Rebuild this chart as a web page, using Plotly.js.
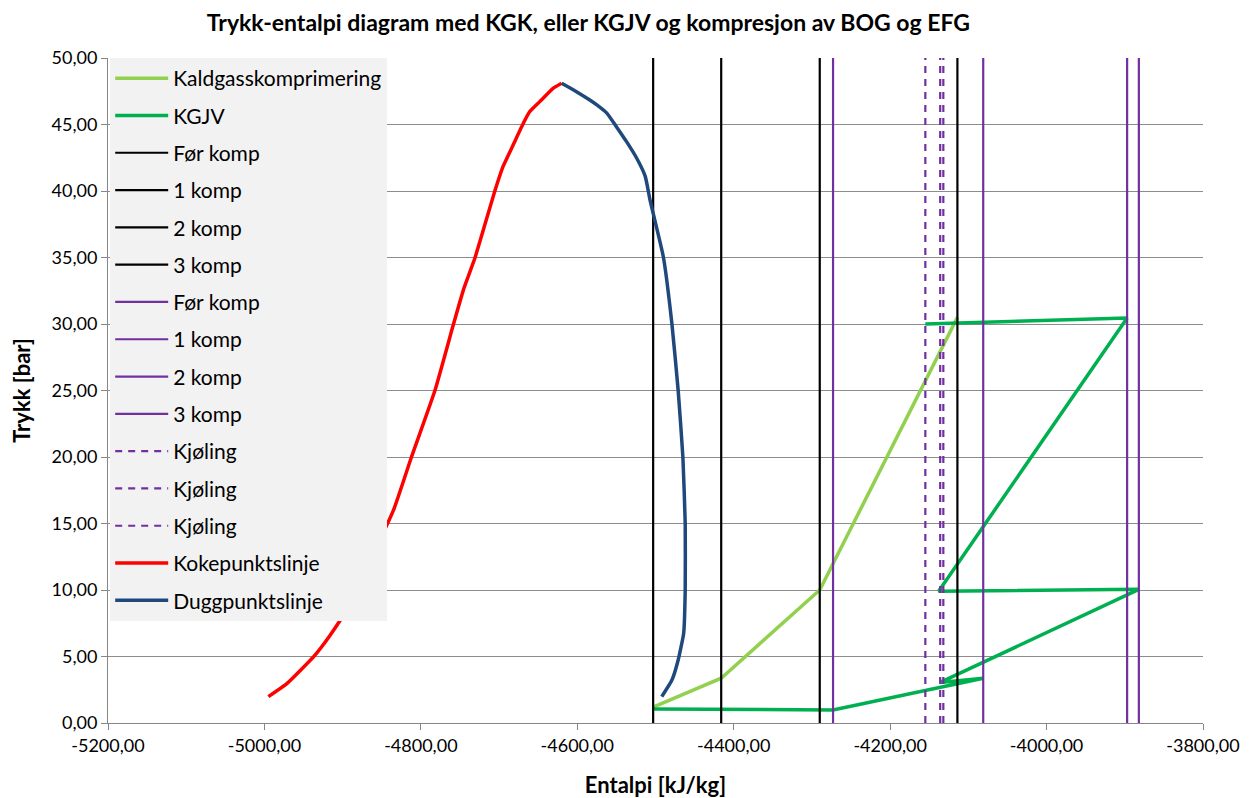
<!DOCTYPE html>
<html>
<head>
<meta charset="utf-8">
<script src="https://cdn.plot.ly/plotly-3.0.1.min.js"></script>
<style>html,body{margin:0;padding:0;background:#fff;}#chart{width:1260px;height:798px;}</style>
</head>
<body>
<div id="chart"></div>
<script>
// Kaldgasskomprimering (KGK)
const kgkX = [-4503, -4416, -4290, -4114];
const kgkY = [1.2, 3.37, 10.0, 30.5];

// KGJV
const kgjvX = [-4503, -4273, -4081, -4136, -3882, -4138, -3897, -4155];
const kgjvY = [1.05, 0.98, 3.36, 3.05, 10.05, 9.9, 30.45, 30.0];

// Vertical lines (enthalpy positions)
const blackNames = ["Før komp", "1 komp", "2 komp", "3 komp"];
const blackX = [-4503, -4416, -4290, -4114];
const purpleNames = ["Før komp", "1 komp", "2 komp", "3 komp"];
const purpleX = [-4273, -4081, -3882, -3897];
const coolNames = ["Kjøling", "Kjøling", "Kjøling"];
const coolX = [-4155, -4136, -4132];
const vertY = [0, 50];

// Kokepunktslinje (boiling line)
const bubX = [-4995, -4971, -4937, -4916, -4895, -4835, -4812, -4782, -4758, -4745, -4731, -4705, -4695, -4682, -4669, -4661, -4648, -4631, -4620];
const bubY = [1.98, 2.98, 4.99, 6.6, 8.5, 16.0, 20.0, 25.0, 30.05, 32.68, 34.94, 40.08, 41.83, 43.46, 45.09, 45.96, 46.72, 47.72, 48.1];

// Duggpunktslinje (dew line)
const dewX = [-4620, -4601, -4584, -4575, -4562, -4550, -4537, -4524, -4513, -4507, -4490, -4479, -4471, -4465, -4462, -4462, -4464, -4471, -4479, -4492];
const dewY = [48.1, 47.47, 46.84, 46.47, 45.84, 44.84, 43.71, 42.46, 41.08, 39.32, 35.06, 30.0, 25.0, 20.0, 15.0, 10.0, 6.74, 4.74, 3.23, 1.98];

// Tick labels
const xTickVals = [-5200, -5000, -4800, -4600, -4400, -4200, -4000, -3800];
const xTickText = ["-5200,00", "-5000,00", "-4800,00", "-4600,00", "-4400,00", "-4200,00", "-4000,00", "-3800,00"];
const yTickVals = [0, 5, 10, 15, 20, 25, 30, 35, 40, 45, 50];
const yTickText = ["0,00", "5,00", "10,00", "15,00", "20,00", "25,00", "30,00", "35,00", "40,00", "45,00", "50,00"];

const traces = [];
let g = 0;
traces.push({x: kgkX, y: kgkY, mode: 'lines', name: 'Kaldgasskomprimering', legendgroup: 'g' + (g++), line: {color: '#92d050', width: 3.5}});
traces.push({x: kgjvX, y: kgjvY, mode: 'lines', name: 'KGJV', legendgroup: 'g' + (g++), line: {color: '#00b050', width: 3.5}});
blackX.forEach((v, i) => traces.push({x: [v, v], y: vertY, mode: 'lines', name: blackNames[i], legendgroup: 'g' + (g++), line: {color: '#000000', width: 2.2}}));
purpleX.forEach((v, i) => traces.push({x: [v, v], y: vertY, mode: 'lines', name: purpleNames[i], legendgroup: 'g' + (g++), line: {color: '#7030a0', width: 2.2}}));
coolX.forEach((v, i) => traces.push({x: [v, v], y: vertY, mode: 'lines', name: coolNames[i], legendgroup: 'g' + (g++), line: {color: '#7030a0', width: 2.2, dash: '7px,6px'}}));
traces.push({x: bubX, y: bubY, mode: 'lines', name: 'Kokepunktslinje', legendgroup: 'g' + (g++), line: {color: '#ff0000', width: 3.5, shape: 'spline', smoothing: 0.4}});
traces.push({x: dewX, y: dewY, mode: 'lines', name: 'Duggpunktslinje', legendgroup: 'g' + (g++), line: {color: '#1f497d', width: 3.5, shape: 'spline', smoothing: 0.4}});

const layout = {
  width: 1260, height: 798,
  margin: {l: 108, r: 57, t: 58, b: 75},
  paper_bgcolor: '#ffffff', plot_bgcolor: '#ffffff',
  font: {family: 'Lato, Carlito, sans-serif', size: 18, color: '#000000'},
  title: {text: '<b>Trykk-entalpi diagram med KGK, eller KGJV og kompresjon av BOG og EFG</b>', x: 0.467, xanchor: 'center', y: 0.971, yanchor: 'middle', font: {family: 'Lato, sans-serif', size: 23, color: '#000'}},
  xaxis: {
    range: [-5200, -3800], tickvals: xTickVals, ticktext: xTickText,
    showgrid: false, zeroline: false, showline: true, linecolor: '#868686', linewidth: 1,
    ticks: 'outside', ticklen: 6, tickcolor: '#868686', tickfont: {size: 18},
    title: {text: '<b>Entalpi [kJ/kg]</b>', font: {size: 22}, standoff: 24}
  },
  yaxis: {
    range: [0, 50], tickvals: yTickVals, ticktext: yTickText,
    showgrid: true, gridcolor: '#8c8c8c', gridwidth: 1, zeroline: false,
    showline: true, linecolor: '#868686', linewidth: 1,
    ticks: 'outside', ticklen: 6, tickcolor: '#868686', tickfont: {size: 18},
    title: {text: '<b>Trykk [bar]</b>', font: {size: 22}, standoff: 14}
  },
  showlegend: true,
  legend: {
    x: 0.002, y: 1.0, xanchor: 'left', yanchor: 'top',
    bgcolor: '#f2f2f2', borderwidth: 0,
    font: {size: 21, color: '#000'},
    traceorder: 'grouped', tracegroupgap: 7,
    itemwidth: 53
  }
};

Plotly.newPlot('chart', traces, layout, {displayModeBar: false, staticPlot: true});
</script>
</body>
</html>
